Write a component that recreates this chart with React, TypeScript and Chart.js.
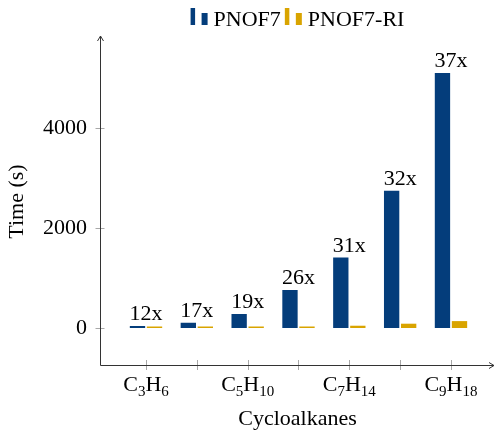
import React, { useEffect, useRef } from "react";
import { Chart, registerables } from "chart.js";

Chart.register(...registerables);

// ---- data ----
const categories = ["C3H6", "C4H8", "C5H10", "C6H12", "C7H14", "C8H16", "C9H18"];
const carbonCounts = ["3", "4", "5", "6", "7", "8", "9"];
const hydrogenCounts = ["6", "8", "10", "12", "14", "16", "18"];
const labeledCategoryIdx = [0, 2, 4, 6];
const seriesNames = ["PNOF7", "PNOF7-RI"];
const pnof7Times = [40, 105, 280, 760, 1410, 2745, 5100];
const pnof7RiTimes = [3.3, 6.2, 14.7, 29, 45.5, 86, 138];
const speedupLabels = ["12x", "17x", "19x", "26x", "31x", "32x", "37x"];
const yTickValues = [0, 2000, 4000];

const FONT = "'Liberation Serif', 'Times New Roman', serif";
const BLUE = "#043d7b";
const GOLD = "#d9a400";
const AXIS = "#333333";
const TICK = "#a8a8a8";

function line(ctx: CanvasRenderingContext2D, x1: number, y1: number, x2: number, y2: number) {
  ctx.beginPath();
  ctx.moveTo(x1, y1);
  ctx.lineTo(x2, y2);
  ctx.stroke();
}

function drawFormula(ctx: CanvasRenderingContext2D, cx: number, baseline: number, c: string, h: string) {
  const big = `22px ${FONT}`;
  const small = `15px ${FONT}`;
  const sub = 4.5;
  const parts: [string, string, number][] = [
    ["C", big, 0],
    [c, small, sub],
    ["H", big, 0],
    [h, small, sub],
  ];
  let total = 0;
  const widths = parts.map(([t, f]) => {
    ctx.font = f;
    const w = ctx.measureText(t).width;
    total += w;
    return w;
  });
  let x = cx - total / 2;
  ctx.textAlign = "left";
  ctx.textBaseline = "alphabetic";
  parts.forEach(([t, f, dy], i) => {
    ctx.font = f;
    ctx.fillText(t, x, baseline + dy);
    x += widths[i];
  });
}

const overlayPlugin = {
  id: "overlay",
  afterDatasetsDraw(chart: any) {
    const ctx: CanvasRenderingContext2D = chart.ctx;
    const xs = chart.scales.x;
    const ys = chart.scales.y;
    const { left, right, top, bottom } = chart.chartArea;
    ctx.save();

    // tick marks
    ctx.strokeStyle = TICK;
    ctx.lineWidth = 1;
    xs.ticks.forEach((t: any) => {
      const px = Math.round(xs.getPixelForValue(t.value)) + 0.5;
      line(ctx, px, bottom - 5, px, bottom + 5);
    });
    ys.ticks.forEach((t: any) => {
      const py = Math.round(ys.getPixelForValue(t.value)) + 0.5;
      line(ctx, left - 4.5, py, left + 4.5, py);
    });

    // axis lines with arrows
    ctx.strokeStyle = AXIS;
    const ax = left + 0.5;
    const ay = bottom + 0.5;
    const tipY = top - 2;
    const tipX = right - 1;
    line(ctx, ax, ay, ax, tipY);
    line(ctx, ax, ay, tipX, ay);
    ctx.beginPath();
    ctx.moveTo(ax - 3, tipY + 5);
    ctx.lineTo(ax, tipY);
    ctx.lineTo(ax + 3, tipY + 5);
    ctx.stroke();
    ctx.beginPath();
    ctx.moveTo(tipX - 5, ay - 3);
    ctx.lineTo(tipX, ay);
    ctx.lineTo(tipX - 5, ay + 3);
    ctx.stroke();

    // speed-up labels above the PNOF7 bars
    const meta = chart.getDatasetMeta(0);
    ctx.fillStyle = "#000";
    ctx.font = `22px ${FONT}`;
    ctx.textAlign = "center";
    ctx.textBaseline = "alphabetic";
    speedupLabels.forEach((s, i) => {
      const bar = meta.data[i];
      ctx.fillText(s, xs.getPixelForValue(i), bar.y - 6);
    });

    // x tick labels with subscripts
    labeledCategoryIdx.forEach((i) => {
      drawFormula(ctx, xs.getPixelForValue(i), bottom + 26, carbonCounts[i], hydrogenCounts[i]);
    });

    // legend
    ctx.font = `22px ${FONT}`;
    const ds = chart.data.datasets;
    const iconW = 17;
    const iconGap = 6;
    const itemGap = 4;
    const textWs = ds.map((d: any) => ctx.measureText(d.label).width);
    const total = textWs.reduce((a: number, w: number) => a + iconW + iconGap + w, 0) + itemGap * (ds.length - 1);
    let lx = (left + right) / 2 - total / 2;
    const base = 26;
    ds.forEach((d: any, i: number) => {
      ctx.fillStyle = d.backgroundColor;
      ctx.fillRect(lx, base - 18, 4.5, 17);
      ctx.fillRect(lx + 11, base - 13, 6, 12);
      ctx.fillStyle = "#000";
      ctx.textAlign = "left";
      ctx.fillText(d.label, lx + iconW + iconGap, base);
      lx += iconW + iconGap + textWs[i] + itemGap;
    });

    ctx.restore();
  },
};

export default function App() {
  const canvasRef = useRef<HTMLCanvasElement | null>(null);

  useEffect(() => {
    document.body.style.margin = "0";
    const canvas = canvasRef.current;
    if (!canvas) return;
    const chart = new Chart(canvas, {
      type: "bar",
      data: {
        datasets: [
          {
            label: seriesNames[0],
            data: pnof7Times.map((v, i) => ({ x: i, y: v })),
            backgroundColor: BLUE,
            minBarLength: 1.5,
          },
          {
            label: seriesNames[1],
            data: pnof7RiTimes.map((v, i) => ({ x: i, y: v })),
            backgroundColor: GOLD,
            minBarLength: 1.5,
          },
        ],
      },
      options: {
        animation: false,
        responsive: false,
        maintainAspectRatio: false,
        layout: { padding: { top: 38, left: 0, right: 0, bottom: 0 } },
        datasets: {
          bar: { categoryPercentage: 0.67, barPercentage: 0.9 },
        },
        plugins: {
          legend: { display: false },
          tooltip: { enabled: false },
        },
        scales: {
          x: {
            type: "linear",
            min: -0.905,
            max: 6.866,
            offset: false,
            grid: { display: false, drawTicks: false },
            border: { display: false },
            ticks: { display: false },
            afterBuildTicks: (s: any) => {
              s.ticks = categories.map((_, i) => ({ value: i }));
            },
            afterFit: (s: any) => {
              s.height = 65;
            },
            title: {
              display: true,
              text: "Cycloalkanes",
              color: "#000",
              font: { family: FONT, size: 22, lineHeight: 1 },
              padding: 0,
            },
          },
          y: {
            type: "linear",
            min: -740,
            max: 5800,
            grid: { display: false, drawTicks: false },
            border: { display: false },
            ticks: {
              color: "#000",
              padding: 13,
              font: { family: FONT, size: 22 },
              callback: (v: any) => String(v),
            },
            afterBuildTicks: (s: any) => {
              s.ticks = yTickValues.map((v) => ({ value: v }));
            },
            afterFit: (s: any) => {
              s.width = 100;
            },
            title: {
              display: true,
              text: "Time (s)",
              color: "#000",
              font: { family: FONT, size: 22, lineHeight: 1 },
              padding: { top: 6, bottom: 0 },
            },
          },
        },
      },
      plugins: [overlayPlugin],
    });
    return () => chart.destroy();
  }, []);

  return (
    <div style={{ width: 495, height: 430 }}>
      <canvas ref={canvasRef} width={495} height={430} style={{ display: "block" }} />
    </div>
  );
}
